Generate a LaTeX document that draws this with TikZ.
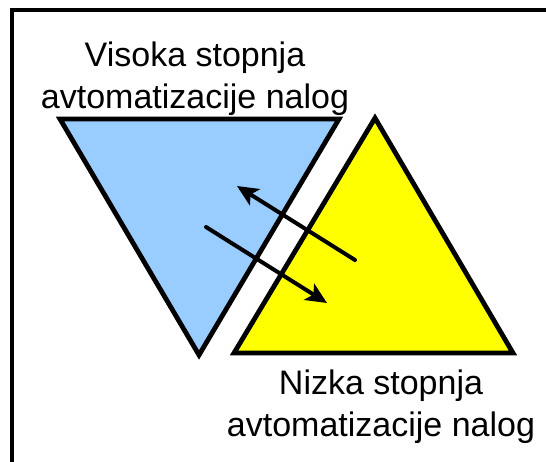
\documentclass[tikz,border=0pt]{standalone}
\usepackage{fontspec}
\setmainfont{Liberation Sans}
\usetikzlibrary{arrows.meta}
\definecolor{lightblue}{HTML}{99CCFF}
\definecolor{brightyellow}{HTML}{FFFF00}
\begin{document}
\begin{tikzpicture}[x=1pt,y=-1pt,
  tri/.style={draw=black,line width=4.8pt,line join=miter},
  arr/.style={draw=black,line width=4pt,line cap=round,-{Stealth[length=21pt,width=19pt,inset=5pt]}},
  lbl/.style={align=center,anchor=base,font=\fontsize{34}{42}\selectfont,inner sep=0pt}]
\useasboundingbox (0,0) rectangle (546,461);
\clip (0,0) rectangle (546,461);
\draw[line width=3.8pt] (11.7,10) rectangle (580,500);
% vertices
\coordinate (b1) at (60,119);
\coordinate (b2) at (339,119);
\coordinate (b3) at (199,355);
\coordinate (y1) at (375,118);
\coordinate (y2) at (234,353);
\coordinate (y3) at (513,353);
\fill[lightblue] (b1) -- (b2) -- (b3) -- cycle;
\draw[tri] (b1) -- (b2) -- (b3) -- cycle;
\fill[brightyellow] (y1) -- (y2) -- (y3) -- cycle;
\draw[tri] (y1) -- (y2) -- (y3) -- cycle;
% arrows
\coordinate (a1s) at (355,260);
\coordinate (a1e) at (237,186);
\coordinate (a2s) at (206,227);
\coordinate (a2e) at (327,303);
\draw[arr] (a1s) -- (a1e);
\draw[arr] (a2s) -- (a2e);
% labels
\node[lbl] (top) at (195,108) {Visoka stopnja\\avtomatizacije nalog};
\node[lbl] (bot) at (381,436.7) {Nizka stopnja\\avtomatizacije nalog};
\end{tikzpicture}
\end{document}
